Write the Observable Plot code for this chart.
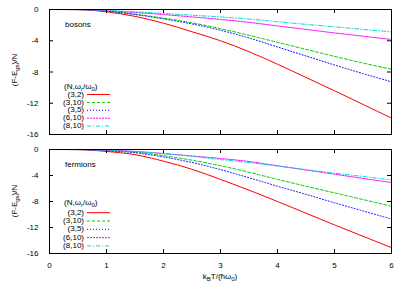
<!DOCTYPE html>
<html><head><meta charset="utf-8">
<script src="https://cdn.jsdelivr.net/npm/d3@7"></script>
<script src="https://cdn.jsdelivr.net/npm/@observablehq/plot@0.6"></script>
<style>
body{margin:0;background:#fff;}
#chart{position:relative;width:415px;height:291px;font-family:"Liberation Sans",Arial,sans-serif;}
#chart svg{position:absolute;left:0;}
</style></head><body><div id="chart"></div>
<script>
// temperature kB T / (hbar w0)
const T = [0, 0.5, 1, 1.5, 2, 2.5, 3, 3.5, 4, 4.5, 5, 5.5, 6];
const seriesLabels = ["(3,2)", "(3,10)", "(3,5)", "(6,10)", "(8,10)"];
// bosons
const bos32  = [0, -0.02, -0.3, -0.88, -1.75, -2.85, -4.0, -5.4, -7.0, -8.7, -10.4, -12.15, -13.9];
const bos310 = [0, -0.01, -0.2, -0.6, -1.1, -1.7, -2.45, -3.3, -4.2, -5.1, -6.0, -6.85, -7.65];
const bos35  = [0, -0.01, -0.2, -0.65, -1.2, -1.85, -2.65, -3.65, -4.8, -5.95, -7.1, -8.2, -9.25];
const bos610 = [0, -0.01, -0.15, -0.38, -0.65, -0.95, -1.27, -1.65, -2.1, -2.55, -3.0, -3.42, -3.84];
const bos810 = [0, -0.01, -0.12, -0.3, -0.5, -0.73, -0.95, -1.22, -1.56, -1.9, -2.22, -2.55, -2.86];
// fermions
const fer32  = [0, -0.02, -0.3, -0.8, -1.8, -3.05, -4.6, -6.25, -8.0, -9.8, -11.6, -13.35, -15.1];
const fer310 = [0, -0.01, -0.15, -0.4, -0.95, -1.65, -2.5, -3.5, -4.6, -5.65, -6.67, -7.7, -8.72];
const fer35  = [0, -0.01, -0.2, -0.5, -1.15, -2.0, -3.1, -4.35, -5.65, -6.9, -8.2, -9.45, -10.7];
const fer610 = [0, -0.01, -0.12, -0.3, -0.62, -1.0, -1.38, -1.85, -2.5, -3.15, -3.8, -4.45, -5.08];
const fer810 = [0, -0.01, -0.12, -0.32, -0.65, -1.05, -1.55, -2.02, -2.55, -3.1, -3.63, -4.15, -4.68];
const xTicks = [0, 1, 2, 3, 4, 5, 6];
const yTicks = [0, -4, -8, -12, -16];

const colors = ["#ff0000", "#00cc00", "#0000ff", "#ff00ff", "#00d8d8"];
const dashes = [null, "3,2", "1,2", "2,1", "4,2,1,2"];

const chart = d3.select("#chart");

function rich(sel, parts, size) {
  parts.forEach(p => {
    const t = sel.append("tspan").text(p[0]);
    if (p[1] === "sub") {
      t.attr("font-size", size * 0.75).attr("dy", 2);
    } else if (p[1] === "back") {
      t.attr("dy", -2);
    }
  });
}

function panel(values, o) {
  const W = 415, mL = 49, mR = 24;
  const innerW = W - mL - mR;
  const innerH = o.height - o.marginTop - o.marginBottom;
  const marks = [
    ...values.map((arr, k) => Plot.line(T.map((t, i) => ({t, v: arr[i]})), {
      x: "t", y: "v", stroke: colors[k], strokeWidth: 1,
      strokeDasharray: dashes[k], curve: "monotone-x"
    })),
    Plot.ruleX(xTicks, {x: d => d, insetBottom: innerH - 4, stroke: "#000"}),
    Plot.ruleX(xTicks, {x: d => d, insetTop: innerH - 4, stroke: "#000"}),
    Plot.ruleY(yTicks, {y: d => d, insetRight: innerW - 4, stroke: "#000"}),
    Plot.ruleY(yTicks, {y: d => d, insetLeft: innerW - 4, stroke: "#000"}),
    Plot.frame({stroke: "#000"})
  ];
  const svg = Plot.plot({
    width: W, height: o.height,
    marginLeft: mL, marginRight: mR, marginTop: o.marginTop, marginBottom: o.marginBottom,
    style: {fontSize: "8px", fontFamily: "Liberation Sans, Arial, sans-serif", color: "#000", background: "transparent"},
    x: {domain: [0, 6], ticks: xTicks, tickFormat: d => String(d), tickSize: 0, tickPadding: 9, label: null, axis: o.showX ? "bottom" : null},
    y: {domain: [-16, 0], ticks: yTicks, tickFormat: d => String(d), tickSize: 0, tickPadding: 11, label: null},
    marks
  });
  chart.node().appendChild(svg);
  const s = d3.select(svg).style("top", o.top + "px").style("overflow", "visible");
  const g = s.append("g").attr("text-anchor", "start");

  // panel name
  g.append("text").attr("x", 65).attr("y", 25).attr("dominant-baseline", "middle")
    .attr("font-size", 8).attr("fill", "#000").text(o.name);

  // y label
  const yl = g.append("text").attr("transform", `translate(15,${o.yLabelY}) rotate(-90)`)
    .attr("text-anchor", "middle").attr("dominant-baseline", "middle").attr("font-size", 8).attr("fill", "#000");
  rich(yl, [["(F-E"], ["gs", "sub"], [")/N", "back"]], 8);

  // legend
  const lt = g.append("text").attr("x", 64).attr("y", o.legTitleY).attr("dominant-baseline", "middle")
    .attr("font-size", 8).attr("fill", "#000");
  rich(lt, [["(N,ω"], ["r", "sub"], ["/ω", "back"], ["0", "sub"], [")", "back"]], 8);
  seriesLabels.forEach((lab, k) => {
    const y = o.legY0 + k * o.legStep;
    g.append("text").attr("x", 84).attr("y", y).attr("text-anchor", "end").attr("dominant-baseline", "middle")
      .attr("font-size", 8).attr("fill", "#000").text(lab);
    g.append("line").attr("x1", 87).attr("x2", 110).attr("y1", y).attr("y2", y)
      .attr("stroke", colors[k]).attr("stroke-width", 1).attr("stroke-dasharray", dashes[k]);
  });

  if (o.showX) {
    const xl = g.append("text").attr("x", mL + innerW / 2).attr("y", o.xLabelY).attr("text-anchor", "middle")
      .attr("dominant-baseline", "middle").attr("font-size", 8).attr("fill", "#000");
    rich(xl, [["k"], ["B", "sub"], ["T/(ħω", "back"], ["0", "sub"], [")", "back"]], 8);
  }
}

panel([bos32, bos310, bos35, bos610, bos810], {
  top: 0, height: 140, marginTop: 9, marginBottom: 6, showX: false, name: "bosons",
  yLabelY: 70, legTitleY: 86.5, legY0: 94.5, legStep: 7.9
});
panel([fer32, fer310, fer35, fer610, fer810], {
  top: 140, height: 151, marginTop: 9, marginBottom: 38, showX: true, name: "fermions",
  yLabelY: 61, legTitleY: 62.8, legY0: 72.7, legStep: 8.3, xLabelY: 137
});
</script>
</body></html>
